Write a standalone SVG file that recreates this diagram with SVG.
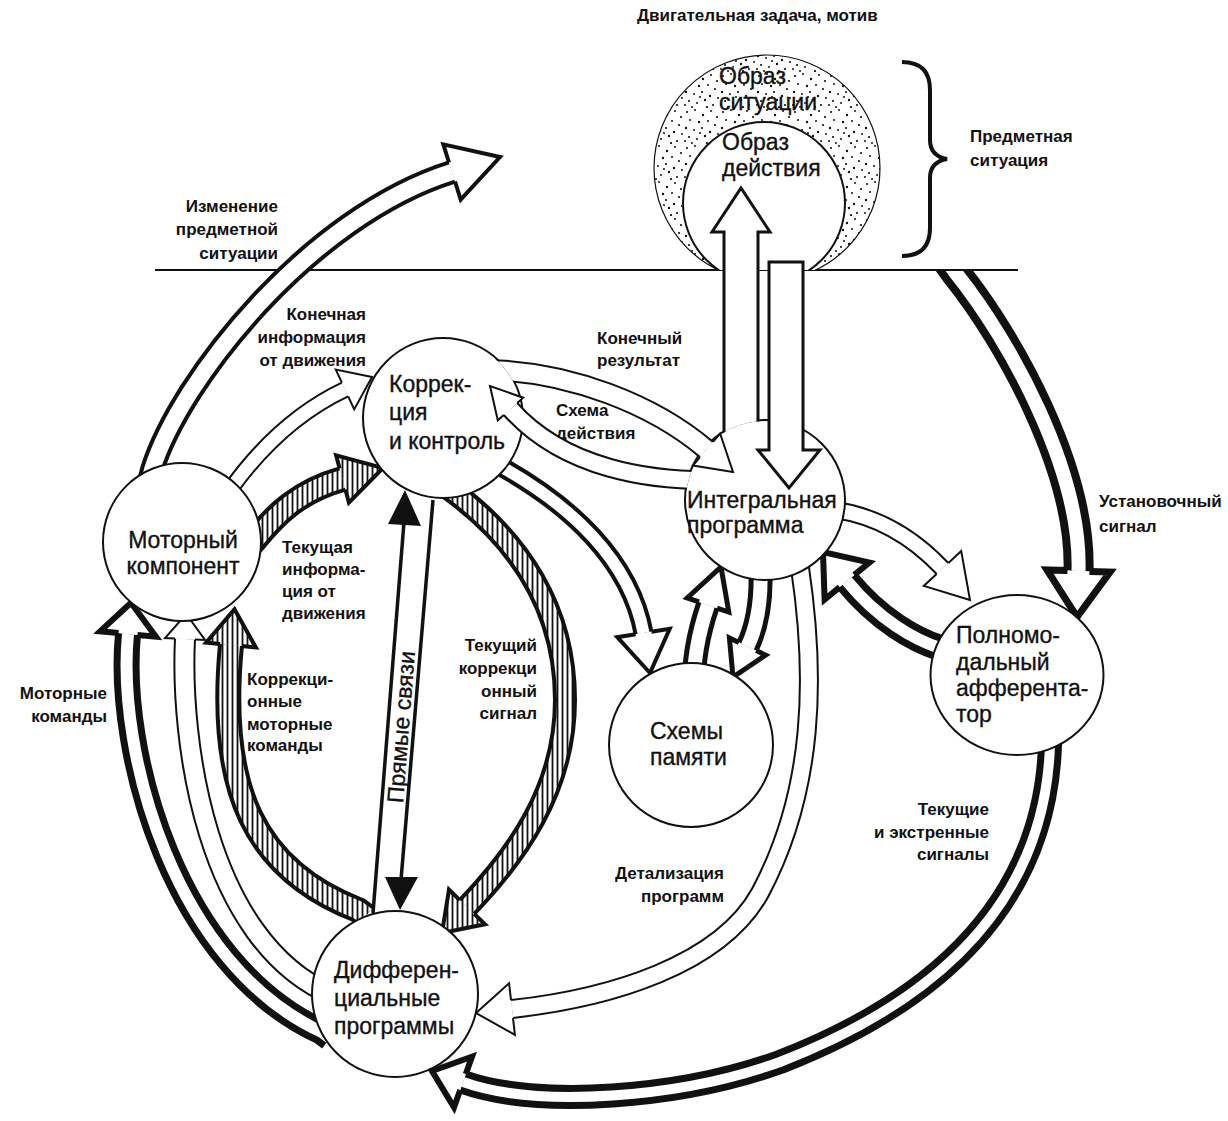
<svg xmlns="http://www.w3.org/2000/svg" width="1228" height="1121" viewBox="0 0 1228 1121">
<defs>
<style>
.ln{fill:none;stroke:#111;stroke-width:2}
.nd{fill:#fff;stroke:#111;stroke-width:2}
.t{font-family:"Liberation Sans",Arial,sans-serif;font-size:17px;font-weight:bold;fill:#111}
.n{font-family:"Liberation Sans",Arial,sans-serif;font-size:23px;fill:#111;stroke:#111;stroke-width:0.35}
.e{text-anchor:end}
.m{text-anchor:middle}
.k{fill:none;stroke:#111;stroke-linecap:butt}
.w{fill:none;stroke:#fff;stroke-linecap:butt}
.h{fill:none;stroke:url(#hatch);stroke-linecap:butt}
.hw{fill:#fff;stroke:#111;stroke-linejoin:miter}
.hh{fill:url(#hatch);stroke:#111;stroke-linejoin:miter}
</style>
<pattern id="hatch" patternUnits="userSpaceOnUse" width="5" height="10"><rect width="5" height="10" fill="#fff"/><rect x="1.6" width="1.8" height="10" fill="#111"/></pattern>
<pattern id="dots" patternUnits="userSpaceOnUse" width="36" height="36"><rect width="36" height="36" fill="#fff"/><g fill="#111"><circle cx="3" cy="4" r="1.1"/><circle cx="11" cy="2" r="1"/><circle cx="19" cy="7" r="1.2"/><circle cx="27" cy="3" r="1"/><circle cx="33" cy="9" r="1.1"/><circle cx="6" cy="12" r="1"/><circle cx="15" cy="14" r="1.2"/><circle cx="24" cy="13" r="1"/><circle cx="31" cy="17" r="1.1"/><circle cx="2" cy="20" r="1.2"/><circle cx="10" cy="22" r="1"/><circle cx="18" cy="20" r="1.1"/><circle cx="26" cy="24" r="1.2"/><circle cx="34" cy="26" r="1"/><circle cx="5" cy="29" r="1.1"/><circle cx="13" cy="31" r="1"/><circle cx="21" cy="28" r="1.2"/><circle cx="29" cy="33" r="1.1"/><circle cx="8" cy="35" r="1"/><circle cx="16" cy="25" r="1"/><circle cx="23" cy="35" r="1.1"/><circle cx="1" cy="33" r="1"/></g></pattern>
<clipPath id="above"><rect x="0" y="0" width="1228" height="270"/></clipPath>
<clipPath id="below"><rect x="0" y="271" width="1228" height="850"/></clipPath>
<mask id="mK" maskUnits="userSpaceOnUse" x="0" y="0" width="1228" height="1121"><rect width="1228" height="1121" fill="#fff"/><circle cx="443" cy="418" r="79" fill="#000"/></mask>
<mask id="mI" maskUnits="userSpaceOnUse" x="0" y="0" width="1228" height="1121"><rect width="1228" height="1121" fill="#fff"/><circle cx="765" cy="500" r="79" fill="#000"/></mask>
</defs>
<rect width="1228" height="1121" fill="#fff"/>

<text class="t" x="637" y="21">Двигательная задача, мотив</text>
<line class="ln" x1="155" y1="270" x2="1018" y2="270"/>

<g id="obraz-situacii">
<circle cx="767" cy="168" r="113" fill="url(#dots)" stroke="#111" stroke-width="1.2" clip-path="url(#above)"/>
<text class="n" x="719" y="84">Образ</text>
<text class="n" x="719" y="110">ситуации</text>
</g>
<g id="obraz-deistviya">
<circle cx="764" cy="203" r="81" class="nd" clip-path="url(#above)"/>
<text class="n" x="722" y="150">Образ</text>
<text class="n" x="722" y="176">действия</text>
</g>
<g id="brace">
<path class="k" stroke-width="4" d="M902,62 Q930,62 930,90 L930,140 Q930,156 947,159 Q930,162 930,178 L930,228 Q930,256 902,256"/>
<text class="t" x="970" y="142">Предметная</text>
<text class="t" x="970" y="166">ситуация</text>
</g>

<g id="connectors">
<!-- A: Изменение предметной ситуации -->
<path class="k" stroke-width="24" d="M148,486 L152,470 C180,380 309,217 452,172"/>
<path class="w" stroke-width="16" d="M148,486 L152,470 C180,380 309,217 452,172"/>
<path class="hw" stroke-width="4" d="M455,181.5 L460.7,199.6 L500,157 L443.3,144.4 L449,162.5"/>
<!-- B: Конечная информация от движения -->
<path class="k" stroke-width="17" d="M223,500 L230,490 C255,455 291,415 345,389.5"/>
<path class="w" stroke-width="13" d="M223,500 L230,490 C255,455 291,415 345,389.5"/>
<path class="hw" stroke-width="2" d="M348.2,396.3 L354.2,409.4 L372,377 L335.8,369.6 L341.9,382.7"/>
<!-- C: Текущая информация от движения -->
<path class="k" stroke-width="26" d="M248,548 L255,540 C275,515 299,491 342.5,479"/>
<path class="h" stroke-width="18" d="M248,548 L255,540 C275,515 299,491 342.5,479"/>
<path class="hh" stroke-width="4" d="M345.4,489.6 L348.9,502.7 L383,468 L336.1,455.3 L339.6,468.4"/>
<!-- D: Коррекционные моторные команды -->
<path class="k" stroke-width="26" d="M366,916 L358,910 C255,870 217,790 231,645"/>
<path class="h" stroke-width="18" d="M366,916 L358,910 C255,870 217,790 231,645"/>
<path class="hh" stroke-width="4" d="M241.9,646.1 L255.9,647.4 L234.5,609.2 L206.1,642.6 L220.1,643.9"/>
<!-- E1: Моторные команды (outer) -->
<path class="k" stroke-width="26" d="M330,1038 L322,1032 C175,965 116.5,753 128,634"/>
<path class="w" stroke-width="12" d="M330,1038 L322,1032 C175,965 116.5,753 128,634"/>
<path class="hw" stroke-width="6" d="M137.5,634.9 L155.9,636.7 L131,602.7 L100.1,631.3 L118.5,633.1"/>
<!-- E2 -->
<path class="k" stroke-width="22" d="M340,1000 L332,995 C205,940 180,739 185,639"/>
<path class="w" stroke-width="18" d="M340,1000 L332,995 C205,940 180,739 185,639"/>
<path class="hw" stroke-width="2" d="M195,639.5 L205,640 L186.2,614 L165,638 L175,638.5"/>
<!-- F: Прямые связи -->
<line x1="373" y1="913" x2="404" y2="522" stroke="#111" stroke-width="3.5"/>
<polygon points="405,490 388,524 421,526" fill="#111"/>
<line x1="433" y1="500" x2="401" y2="880" stroke="#111" stroke-width="3.5"/>
<polygon points="385,877 418,877 400,910" fill="#111"/>
<!-- G: Текущий коррекционный сигнал -->
<path class="k" stroke-width="24" d="M440,478 L448,488 C520,540 565,610 565,700 C565,790 515.5,856.5 467,907"/>
<path class="h" stroke-width="16" d="M440,478 L448,488 C520,540 565,610 565,700 C565,790 515.5,856.5 467,907"/>
<path class="hh" stroke-width="4" d="M459.8,900.1 L449,889.7 L442,933 L485,924.3 L474.2,913.9"/>
<!-- H: Коррекция -> Схемы памяти -->
<path class="k" stroke-width="20" d="M494,462 L500,466 C570,505 630,560 643.5,633"/>
<path class="w" stroke-width="12" d="M494,462 L500,466 C570,505 630,560 643.5,633"/>
<path class="hw" stroke-width="4" d="M635.6,634.3 L617.3,637.2 L650,673 L669.7,628.8 L651.4,631.7"/>
<!-- J: Интегральная -> Полномодальный -->
<path class="k" stroke-width="18" d="M828,508 L835,510 C870,515 908,532 942.5,568.5"/>
<path class="w" stroke-width="14" d="M828,508 L835,510 C870,515 908,532 942.5,568.5"/>
<path class="hw" stroke-width="2" d="M936.6,574 L923.8,585.9 L970,600 L961.2,551.1 L948.4,563"/>
<!-- K: Полномодальный -> Интегральная -->
<path class="k" stroke-width="26" d="M948,652 L940,648 C915,640 879,620 847,581"/>
<path class="w" stroke-width="12" d="M948,652 L940,648 C915,640 879,620 847,581"/>
<path class="hw" stroke-width="6" d="M854.3,574.9 L869.4,562.5 L823,552 L824.6,599.5 L839.7,587.1"/>
<!-- L1: Схемы -> Интегральная -->
<path class="k" stroke-width="24" d="M694,700 L694,690 C693,660 698.3,633.4 708,605"/>
<path class="w" stroke-width="14" d="M694,700 L694,690 C693,660 698.3,633.4 708,605"/>
<path class="hw" stroke-width="5" d="M717,608.1 L728.8,612.1 L721,567 L687.2,597.9 L699,601.9"/>
<!-- L2: Интегральная -> Схемы -->
<path class="k" stroke-width="24" d="M760,560 C762,590 760.4,619.4 747.5,646.5"/>
<path class="w" stroke-width="14" d="M760,560 C762,590 760.4,619.4 747.5,646.5"/>
<path class="hw" stroke-width="5" d="M738.9,642.4 L729.4,637.9 L733,677 L765.6,655.1 L756.1,650.6"/>
<!-- M: Детализация программ -->
<path class="k" stroke-width="20" d="M800,568 C816,675 815,790 760,893 C720,965 611,998 512,1009"/>
<path class="w" stroke-width="16" d="M800,568 C816,675 815,790 760,893 C720,965 611,998 512,1009"/>
<path class="hw" stroke-width="2" d="M511,1000.1 L509.1,983.2 L476,1013 L514.9,1034.8 L513,1017.9"/>
<!-- N: Установочный сигнал -->
<g clip-path="url(#below)">
<path class="k" stroke-width="30" d="M945,258 L955,272 C1010,340 1081.7,471 1078.5,571"/>
<path class="w" stroke-width="14" d="M945,258 L955,272 C1010,340 1081.7,471 1078.5,571"/>
</g>
<path class="hw" stroke-width="7" d="M1067.5,570.6 L1047,570 L1077,617 L1110,572 L1089.5,571.4"/>
<!-- O: Текущие и экстренные сигналы -->
<path class="k" stroke-width="24" d="M1051,735 L1050,745 C1045,900 940,1000 780,1062 C680,1098 538.4,1108.7 463,1082"/>
<path class="w" stroke-width="10" d="M1051,735 L1050,745 C1045,900 940,1000 780,1062 C680,1098 538.4,1108.7 463,1082"/>
<path class="hw" stroke-width="6" d="M465.8,1074 L472,1056.6 L432,1071 L454,1107.4 L460.2,1090"/>
</g>

<g id="labels">
<text class="t e" x="278" y="212">Изменение</text>
<text class="t e" x="278" y="235">предметной</text>
<text class="t e" x="278" y="259">ситуации</text>
<text class="t e" x="366" y="320">Конечная</text>
<text class="t e" x="366" y="343">информация</text>
<text class="t e" x="366" y="366">от движения</text>
<text class="t" x="597" y="344">Конечный</text>
<text class="t" x="597" y="366">результат</text>
<text class="t" x="556" y="416">Схема</text>
<text class="t" x="556" y="439">действия</text>
<text class="t" x="282" y="553">Текущая</text>
<text class="t" x="282" y="575">информа-</text>
<text class="t" x="282" y="597">ция от</text>
<text class="t" x="282" y="619">движения</text>
<text class="t" x="247" y="685">Коррекци-</text>
<text class="t" x="247" y="707">онные</text>
<text class="t" x="247" y="730">моторные</text>
<text class="t" x="247" y="751">команды</text>
<text class="t e" x="107" y="699">Моторные</text>
<text class="t e" x="107" y="722">команды</text>
<text class="t e" x="537" y="651">Текущий</text>
<text class="t e" x="537" y="674">коррекци</text>
<text class="t e" x="537" y="697">онный</text>
<text class="t e" x="537" y="719">сигнал</text>
<text class="t e" x="724" y="879">Детализация</text>
<text class="t e" x="724" y="902">программ</text>
<text class="t e" x="989" y="815">Текущие</text>
<text class="t e" x="989" y="838">и экстренные</text>
<text class="t e" x="989" y="860">сигналы</text>
<text class="t" x="1099" y="507">Установочный</text>
<text class="t" x="1099" y="532">сигнал</text>
<text class="n m" x="401" y="727" dominant-baseline="central" font-size="21" transform="rotate(-85.5 401 727)">Прямые связи</text>
</g>

<g id="motorny">
<circle class="nd" cx="182" cy="542" r="79"/>
<text class="n m" x="183" y="548">Моторный</text>
<text class="n m" x="183" y="574">компонент</text>
</g>
<g id="korrekciya">
<circle class="nd" cx="443" cy="418" r="80"/>
<text class="n" x="389" y="392">Коррек-</text>
<text class="n" x="389" y="420">ция</text>
<text class="n" x="389" y="449">и контроль</text>
</g>
<g id="integralnaya">
<circle class="nd" cx="765" cy="500" r="80"/>
<text class="n" x="687" y="508">Интегральная</text>
<text class="n" x="687" y="533">программа</text>
</g>
<g id="shemy">
<circle class="nd" cx="691" cy="745" r="82"/>
<text class="n" x="650" y="739">Схемы</text>
<text class="n" x="650" y="765">памяти</text>
</g>
<g id="polnomodalny">
<ellipse class="nd" cx="1017" cy="675" rx="86.5" ry="80"/>
<text class="n" x="956" y="643">Полномо-</text>
<text class="n" x="956" y="670">дальный</text>
<text class="n" x="956" y="696">афферента-</text>
<text class="n" x="956" y="722">тор</text>
</g>
<g id="differencialnye">
<circle class="nd" cx="395" cy="994" r="83"/>
<text class="n" x="334" y="978">Дифферен-</text>
<text class="n" x="334" y="1006">циальные</text>
<text class="n" x="334" y="1034">программы</text>
</g>

<g id="connectors-front">
<!-- X: Коррекция -> Интегральная -->
<g mask="url(#mK)">
<path class="k" stroke-width="22" d="M490,370 C570,372 653.2,404.2 706.5,449.5"/>
<path class="w" stroke-width="18" d="M490,370 C570,372 653.2,404.2 706.5,449.5"/>
</g>
<path class="hw" stroke-width="2" d="M700,457.1 L692.9,465.5 L733,472 L720.1,433.5 L713,441.9"/>
<!-- Y: Интегральная -> Коррекция -->
<g mask="url(#mI)">
<path class="k" stroke-width="20" d="M720,480 C650,482 563.8,468.8 510.5,409"/>
<path class="w" stroke-width="16" d="M720,480 C650,482 563.8,468.8 510.5,409"/>
</g>
<path class="hw" stroke-width="2" d="M517.2,403 L523.2,397.7 L490,386 L497.8,420.3 L503.8,415"/>
<!-- U: Интегральная -> Образ действия -->
<g mask="url(#mI)">
<path fill="#fff" d="M724,460 L724,232 L712,232 L741,188 L770,232 L758,232 L758,460 Z"/>
<path class="k" stroke-width="3" d="M724,460 L724,232 L712,232 L741,188 L770,232 L758,232 L758,460"/>
</g>
<!-- Dn: Образ -> Интегральная -->
<path class="hw" stroke-width="3" d="M769,262 L803,262 L803,450 L820,450 L789,488 L758,450 L769,450 Z"/>
</g>
</svg>
